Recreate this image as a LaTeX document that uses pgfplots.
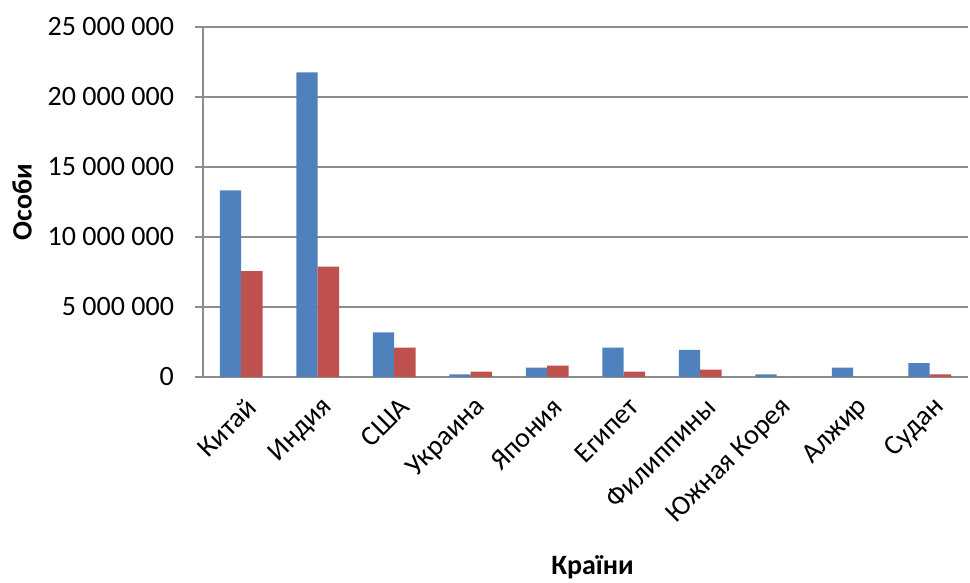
\documentclass[border=0pt]{standalone}
\usepackage{fontspec}
\setmainfont{Carlito}
\usepackage{pgfplots}
\pgfplotsset{compat=1.18}

\definecolor{serblue}{HTML}{4F81BD}
\definecolor{serred}{HTML}{C0504D}
\definecolor{gridgray}{HTML}{8C8C8C}

\begin{document}
\begin{tikzpicture}
\begin{axis}[
    name=ax,
    scale only axis,
    width=382.5pt,
    height=175pt,
    ybar=0pt,
    bar width=0.28,
    xmin=-0.5, xmax=9.5,
    ymin=0, ymax=25000000,
    scaled y ticks=false,
    xtick={0,1,2,3,4,5,6,7,8,9},
    xticklabels={Китай,Индия,США,Украина,Япония,Египет,Филиппины,Южная Корея,Алжир,Судан},
    ytick={0,5000000,10000000,15000000,20000000,25000000},
    yticklabels={0,5 000 000,10 000 000,15 000 000,20 000 000,25 000 000},
    axis lines*=left,
    axis line style={gridgray, line width=0.8pt, -},
    ymajorgrids,
    grid style={gridgray, line width=0.8pt},
    tick align=outside,
    major tick length=4pt,
    y tick style={gridgray, line width=0.8pt},
    x tick style={draw=none},
    tick label style={font=\fontsize{14}{16}\selectfont, text=black},
    yticklabel style={xshift=-7pt},
    % shifts below act in the rotated frame
    x tick label style={rotate=45, anchor=east, inner sep=1pt, xshift=-1.5pt, yshift=-10pt},
    ylabel={\textbf{Особи}},
    xlabel={\textbf{Країни}},
    label style={font=\fontsize{14}{16}\selectfont},
    ylabel style={at={(rel axis cs:0,0.5)}, anchor=center, yshift=90.5pt},
    xlabel style={at={(rel axis cs:0.5,0)}, anchor=center, xshift=3.5pt, yshift=-95pt},
]
\addplot[fill=serblue, draw=none] coordinates {
    (0,13330000) (1,21760000) (2,3190000) (3,190000) (4,670000)
    (5,2090000) (6,1940000) (7,190000) (8,670000) (9,990000)
};
\addplot[fill=serred, draw=none] coordinates {
    (0,7570000) (1,7880000) (2,2090000) (3,390000) (4,820000)
    (5,390000) (6,530000) (7,0) (8,0) (9,190000)
};
\end{axis}
\pgfresetboundingbox
\path[use as bounding box] ([xshift=-101.5pt,yshift=-103pt]ax.south west) rectangle ([xshift=1pt,yshift=13.5pt]ax.north east);
\end{tikzpicture}
\end{document}
